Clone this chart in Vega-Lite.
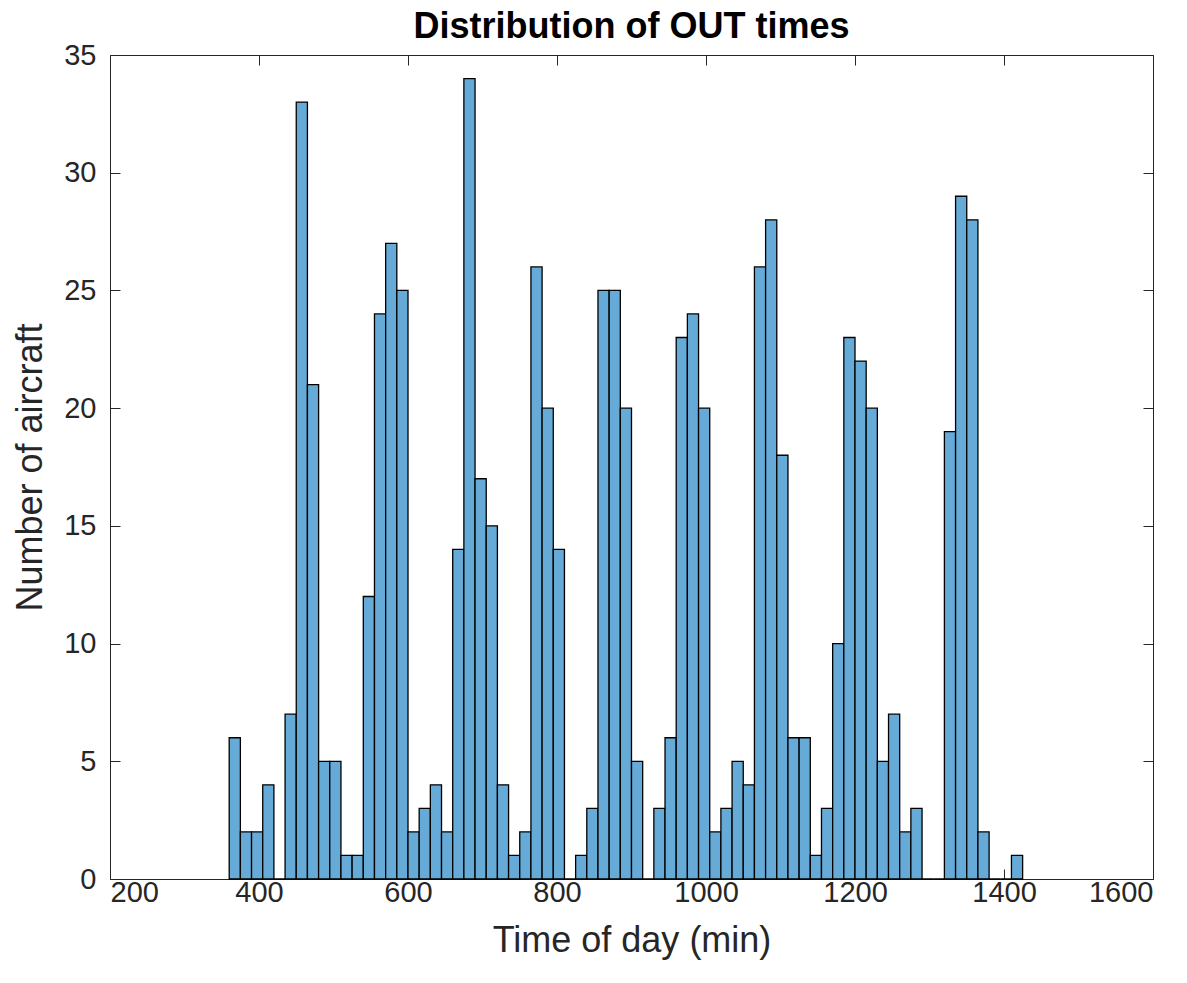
{
  "$schema": "https://vega.github.io/schema/vega-lite/v6.json",
  "width": 1043,
  "height": 824,
  "autosize": {"type": "none"},
  "padding": {"left": 110, "top": 55, "right": 34, "bottom": 104},
  "background": "white",
  "title": {
    "text": "Distribution of OUT times",
    "font": "Liberation Sans",
    "fontSize": 36,
    "fontWeight": "bold",
    "color": "#000000",
    "anchor": "middle",
    "frame": "group",
    "baseline": "bottom",
    "offset": 11,
    "dy": 52
  },
  "config": {
    "view": {"stroke": null},
    "axis": {
      "grid": false,
      "domainColor": "#262626",
      "domainWidth": 1,
      "tickColor": "#262626",
      "tickWidth": 1,
      "tickSize": -10,
      "labelColor": "#262626",
      "titleColor": "#262626",
      "labelFont": "Liberation Sans",
      "titleFont": "Liberation Sans",
      "labelFontSize": 29,
      "titleFontSize": 36,
      "titleFontWeight": "normal"
    }
  },
  "data": {
    "values": [
      {"start": 360, "end": 375, "count": 6},
      {"start": 375, "end": 390, "count": 2},
      {"start": 390, "end": 405, "count": 2},
      {"start": 405, "end": 420, "count": 4},
      {"start": 420, "end": 435, "count": 0},
      {"start": 435, "end": 450, "count": 7},
      {"start": 450, "end": 465, "count": 33},
      {"start": 465, "end": 480, "count": 21},
      {"start": 480, "end": 495, "count": 5},
      {"start": 495, "end": 510, "count": 5},
      {"start": 510, "end": 525, "count": 1},
      {"start": 525, "end": 540, "count": 1},
      {"start": 540, "end": 555, "count": 12},
      {"start": 555, "end": 570, "count": 24},
      {"start": 570, "end": 585, "count": 27},
      {"start": 585, "end": 600, "count": 25},
      {"start": 600, "end": 615, "count": 2},
      {"start": 615, "end": 630, "count": 3},
      {"start": 630, "end": 645, "count": 4},
      {"start": 645, "end": 660, "count": 2},
      {"start": 660, "end": 675, "count": 14},
      {"start": 675, "end": 690, "count": 34},
      {"start": 690, "end": 705, "count": 17},
      {"start": 705, "end": 720, "count": 15},
      {"start": 720, "end": 735, "count": 4},
      {"start": 735, "end": 750, "count": 1},
      {"start": 750, "end": 765, "count": 2},
      {"start": 765, "end": 780, "count": 26},
      {"start": 780, "end": 795, "count": 20},
      {"start": 795, "end": 810, "count": 14},
      {"start": 810, "end": 825, "count": 0},
      {"start": 825, "end": 840, "count": 1},
      {"start": 840, "end": 855, "count": 3},
      {"start": 855, "end": 870, "count": 25},
      {"start": 870, "end": 885, "count": 25},
      {"start": 885, "end": 900, "count": 20},
      {"start": 900, "end": 915, "count": 5},
      {"start": 915, "end": 930, "count": 0},
      {"start": 930, "end": 945, "count": 3},
      {"start": 945, "end": 960, "count": 6},
      {"start": 960, "end": 975, "count": 23},
      {"start": 975, "end": 990, "count": 24},
      {"start": 990, "end": 1005, "count": 20},
      {"start": 1005, "end": 1020, "count": 2},
      {"start": 1020, "end": 1035, "count": 3},
      {"start": 1035, "end": 1050, "count": 5},
      {"start": 1050, "end": 1065, "count": 4},
      {"start": 1065, "end": 1080, "count": 26},
      {"start": 1080, "end": 1095, "count": 28},
      {"start": 1095, "end": 1110, "count": 18},
      {"start": 1110, "end": 1125, "count": 6},
      {"start": 1125, "end": 1140, "count": 6},
      {"start": 1140, "end": 1155, "count": 1},
      {"start": 1155, "end": 1170, "count": 3},
      {"start": 1170, "end": 1185, "count": 10},
      {"start": 1185, "end": 1200, "count": 23},
      {"start": 1200, "end": 1215, "count": 22},
      {"start": 1215, "end": 1230, "count": 20},
      {"start": 1230, "end": 1245, "count": 5},
      {"start": 1245, "end": 1260, "count": 7},
      {"start": 1260, "end": 1275, "count": 2},
      {"start": 1275, "end": 1290, "count": 3},
      {"start": 1290, "end": 1305, "count": 0},
      {"start": 1305, "end": 1320, "count": 0},
      {"start": 1320, "end": 1335, "count": 19},
      {"start": 1335, "end": 1350, "count": 29},
      {"start": 1350, "end": 1365, "count": 28},
      {"start": 1365, "end": 1380, "count": 2},
      {"start": 1380, "end": 1395, "count": 0},
      {"start": 1395, "end": 1410, "count": 0},
      {"start": 1410, "end": 1425, "count": 1}
    ]
  },
  "layer": [
    {
      "mark": {"type": "bar", "fill": "#66AAD7", "stroke": "#000000", "strokeWidth": 1.3},
      "encoding": {
        "x": {
          "field": "start",
          "type": "quantitative",
          "scale": {"domain": [200, 1600], "nice": false, "zero": false},
          "axis": {
            "orient": "bottom",
            "values": [200, 400, 600, 800, 1000, 1200, 1400, 1600],
            "format": "d",
            "labelPadding": 9,
            "title": "Time of day (min)",
            "titleBaseline": "alphabetic",
            "titleY": 72
          }
        },
        "x2": {"field": "end"},
        "y": {
          "field": "count",
          "type": "quantitative",
          "scale": {"domain": [0, 35], "nice": false},
          "axis": {
            "orient": "left",
            "values": [0, 5, 10, 15, 20, 25, 30, 35],
            "format": "d",
            "labelPadding": 24,
            "title": "Number of aircraft",
            "titleAngle": -90,
            "titleBaseline": "alphabetic",
            "titleX": -69,
            "titleY": 412
          }
        },
        "y2": {"datum": 0}
      }
    },
    {
      "mark": {"type": "bar", "opacity": 0},
      "encoding": {
        "x": {
          "field": "start",
          "type": "quantitative",
          "axis": {"orient": "top", "values": [200, 400, 600, 800, 1000, 1200, 1400, 1600], "labels": false, "title": null}
        },
        "x2": {"field": "end"},
        "y": {
          "field": "count",
          "type": "quantitative",
          "axis": {"orient": "right", "values": [0, 5, 10, 15, 20, 25, 30, 35], "labels": false, "title": null}
        },
        "y2": {"datum": 0}
      }
    }
  ],
  "resolve": {"axis": {"x": "independent", "y": "independent"}}
}
